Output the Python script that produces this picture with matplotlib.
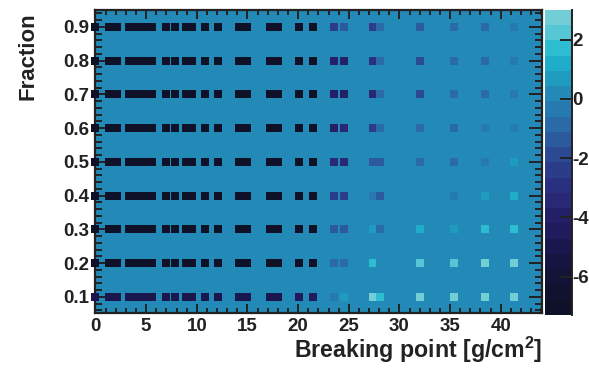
import matplotlib
matplotlib.use("Agg")
import numpy as np
import matplotlib.pyplot as plt
from matplotlib.colors import ListedColormap, BoundaryNorm
from matplotlib.ticker import MultipleLocator, FixedLocator

plt.rcParams['font.family'] = ['Liberation Sans', 'DejaVu Sans']
plt.rcParams['font.weight'] = 'bold'
plt.rcParams['mathtext.fontset'] = 'custom'
plt.rcParams['mathtext.rm'] = 'Liberation Sans:bold'
plt.rcParams['mathtext.bf'] = 'Liberation Sans:bold'

# ---- data -----------------------------------------------------------------
fractions = [0.1, 0.2, 0.3, 0.4, 0.5, 0.6, 0.7, 0.8, 0.9]
breaking_points = [0.0, 1.3, 2.15, 3.3, 4.05, 4.85, 5.6, 6.95, 7.85, 8.95,
                   9.5, 10.8, 12.1, 14.15, 14.95, 17.25, 18.0, 20.1, 21.5,
                   23.5, 24.5, 27.4, 28.1, 32.0, 35.4, 38.4, 41.3]

# one row of z values per fraction, same order as breaking_points
z_f01 = [-4.8, -4.8, -4.8, -4.8, -4.8, -4.8, -4.8, -4.8, -4.8, -4.8,
         -4.8, -4.8, -4.8, -4.8, -4.8, -4.8, -4.8, -4.7, -4.7,
         -0.4, 0.6, 2.9, 1.8, 2.6, 2.7, 2.7, 2.8]
z_f02 = [-6.9, -6.9, -6.9, -6.9, -6.9, -6.9, -6.9, -6.9, -6.9, -6.9,
         -6.9, -6.9, -6.9, -6.9, -6.9, -6.9, -6.9, -6.9, -6.9,
         -0.8, -1.0, 1.8, 0.1, 2.2, 2.2, 2.5, 2.5]
z_f03 = [-6.9, -6.9, -6.9, -6.9, -6.9, -6.9, -6.9, -6.9, -6.9, -6.9,
         -6.9, -6.9, -6.9, -6.9, -6.9, -6.9, -6.9, -6.9, -6.9,
         -1.5, -1.5, 0.7, -0.7, 1.1, 0.8, 1.5, 1.6]
z_f04 = [-6.9, -6.9, -6.9, -6.9, -6.9, -6.9, -6.9, -6.9, -6.9, -6.9,
         -6.9, -6.9, -6.9, -6.9, -6.9, -6.9, -6.9, -6.9, -6.9,
         -2.3, -2.3, -0.3, -1.5, 0.1, -0.2, 0.7, 1.1]
z_f05 = [-6.9, -6.9, -6.9, -6.9, -6.9, -6.9, -6.9, -6.9, -6.9, -6.9,
         -6.9, -6.9, -6.9, -6.9, -6.9, -6.9, -6.9, -6.9, -6.9,
         -3.3, -3.3, -1.6, -1.6, -1.1, -0.7, -0.3, 0.6]
z_f06 = [-6.9, -6.9, -6.9, -6.9, -6.9, -6.9, -6.9, -6.9, -6.9, -6.9,
         -6.9, -6.9, -6.9, -6.9, -6.9, -6.9, -6.9, -6.9, -6.9,
         -3.8, -3.6, -2.2, -1.1, -1.1, -0.8, -0.5, -0.4]
z_f07 = [-6.9, -6.9, -6.9, -6.9, -6.9, -6.9, -6.9, -6.9, -6.9, -6.9,
         -6.9, -6.9, -6.9, -6.9, -6.9, -6.9, -6.9, -6.9, -6.9,
         -4.0, -4.0, -3.3, -1.1, -1.8, -0.7, -1.1, -0.6]
z_f08 = [-6.9, -6.9, -6.9, -6.9, -6.9, -6.9, -6.9, -6.9, -6.9, -6.9,
         -6.9, -6.9, -6.9, -6.9, -6.9, -6.9, -6.9, -6.9, -6.9,
         -3.7, -3.7, -3.1, -1.1, -1.8, -0.7, -1.1, -0.5]
z_f09 = [-6.9, -6.9, -6.9, -6.9, -6.9, -6.9, -6.9, -6.9, -6.9, -6.9,
         -6.9, -6.9, -6.9, -6.9, -6.9, -6.9, -6.9, -6.9, -6.9,
         -2.5, -1.5, -2.5, -1.1, -1.5, -0.8, -0.8, -0.6]

x_ticks = [0, 5, 10, 15, 20, 25, 30, 35, 40]
y_ticks = [0.1, 0.2, 0.3, 0.4, 0.5, 0.6, 0.7, 0.8, 0.9]
z_ticks = [-6, -4, -2, 0, 2]
z_min, z_max, n_levels = -7.3, 3.0, 20

# ---- palette (dark navy -> blue -> light cyan), 20 discrete bands ---------
band_rgb = [(15, 17, 40), (17, 18, 48), (19, 19, 56), (22, 21, 66),
            (26, 23, 78), (31, 27, 92), (36, 32, 104), (40, 40, 116),
            (42, 48, 128), (43, 60, 138), (44, 74, 148), (44, 90, 158),
            (42, 106, 167), (38, 122, 175), (35, 137, 182), (32, 155, 192),
            (30, 172, 200), (45, 188, 208), (85, 198, 212), (115, 205, 215)]
cmap = ListedColormap([(r / 255, g / 255, b / 255) for r, g, b in band_rgb])
norm = BoundaryNorm(np.linspace(z_min, z_max, n_levels + 1), cmap.N)

Z = np.array([z_f01, z_f02, z_f03, z_f04, z_f05, z_f06, z_f07, z_f08, z_f09])
X, Y = np.meshgrid(breaking_points, fractions)

# ---- figure --------------------------------------------------------------
fig = plt.figure(figsize=(5.89, 3.73), dpi=100)
ax = fig.add_axes([0.1621, 0.1617, 0.7586, 0.8115])
ax.set_facecolor(cmap(norm(0.0)))

sc = ax.scatter(X.ravel(), Y.ravel(), c=Z.ravel(), cmap=cmap, norm=norm,
                marker='s', s=33, linewidths=0, zorder=3, clip_on=False)

ax.set_xlim(0, 44.1)
ax.set_ylim(0.053, 0.95)

ax.xaxis.set_major_locator(FixedLocator(x_ticks))
ax.xaxis.set_minor_locator(MultipleLocator(1))
ax.yaxis.set_major_locator(FixedLocator(y_ticks))
ax.yaxis.set_minor_locator(MultipleLocator(0.02))
ax.set_xticklabels([str(v) for v in x_ticks])
ax.set_yticklabels([f"{v:.1f}" for v in y_ticks])

ax.tick_params(axis='both', which='both', direction='in', top=True,
               right=True, colors='#222222', width=1.4, labelsize=13.5,
               labelcolor='#222222')
ax.tick_params(axis='x', which='major', length=6.5, pad=3.5)
ax.tick_params(axis='x', which='minor', length=3.3)
ax.tick_params(axis='y', which='major', length=9.5, pad=4.5)
ax.tick_params(axis='y', which='minor', length=4.8)
for s in ax.spines.values():
    s.set_linewidth(1.6)
    s.set_color('#222222')

ax.set_xlabel(r'Breaking point [g/cm$^{2}$]', fontsize=16.7, fontweight='bold',
              color='#222222', ha='right', va='baseline')
ax.xaxis.set_label_coords(1.0, -0.1497)
ax.set_ylabel('Fraction', fontsize=16, fontweight='bold', color='#222222',
              ha='right', va='center')
ax.yaxis.set_label_coords(-0.151, 0.993)

# ---- colour scale --------------------------------------------------------
cax = fig.add_axes([0.9253, 0.1555, 0.0453, 0.8177])
cb = fig.colorbar(sc, cax=cax, ticks=z_ticks)
cb.outline.set_visible(False)
cax.yaxis.set_minor_locator(FixedLocator([]))
cax.tick_params(axis='y', which='major', direction='in', length=8.5,
                width=1.4, colors='#222222', labelsize=13.5, pad=0.5)
cax.set_yticklabels([str(v) for v in z_ticks])
cax.plot([1, 1], [0, 1], transform=cax.transAxes, color='#222222', lw=1.4,
         clip_on=False)

fig.savefig('out.png', dpi=100)
